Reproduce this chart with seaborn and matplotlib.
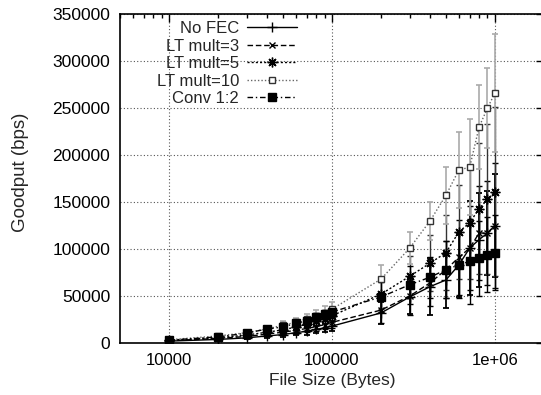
import numpy as np
import pandas as pd
import matplotlib
matplotlib.use('Agg')
import matplotlib.pyplot as plt
import matplotlib.ticker as mticker
import seaborn as sns

# File sizes (bytes) and goodput (bps)
sizes = [10000, 20000, 30000, 40000, 50000, 60000, 70000, 80000, 90000, 100000,
         200000, 300000, 400000, 500000, 600000, 700000, 800000, 900000, 1000000]

no_fec = [2000, 3800, 5500, 7500, 9000, 11000, 12500, 14500, 16000, 18000,
          32000, 49000, 60000, 67000, 83000, 101000, 110000, 117000, 125000]
no_fec_err = [500, 1000, 1500, 2000, 2500, 3000, 3500, 4000, 4500, 5000,
              12000, 18000, 30000, 30000, 34000, 50000, 50000, 45000, 55000]

lt3 = [2500, 4800, 7000, 9500, 11500, 13500, 15500, 17500, 19500, 22000,
       35000, 50000, 64000, 78000, 91000, 101000, 117000, 117000, 125000]
lt3_err = [600, 1200, 1800, 2400, 3000, 3500, 4000, 4500, 5000, 6000,
           14000, 20000, 25000, 30000, 40000, 45000, 50000, 55000, 67000]

lt5 = [3000, 5500, 8500, 11500, 14000, 17000, 20000, 23000, 26000, 29000,
       52000, 71000, 85000, 96000, 118000, 128000, 143000, 153000, 161000]
lt5_err = [700, 1400, 2000, 2800, 3500, 4000, 4500, 5000, 6000, 7000,
           16000, 22000, 30000, 40000, 50000, 60000, 70000, 80000, 90000]

lt10 = [3500, 7500, 11000, 15000, 19000, 22000, 26000, 29000, 32000, 36000,
        68000, 101000, 130000, 157000, 184000, 187000, 230000, 250000, 266000]
lt10_err = [800, 1600, 2500, 3200, 4000, 4500, 5000, 6000, 7000, 8000,
            15000, 17000, 20000, 30000, 40000, 51000, 45000, 43000, 63000]

conv = [3000, 6500, 10500, 15000, 17000, 21000, 23500, 27500, 31000, 33000,
        49000, 62000, 70000, 78000, 83000, 87000, 90000, 94000, 96000]
conv_err = [500, 1000, 1500, 2000, 2500, 3000, 3500, 4000, 4500, 5000,
            16000, 20000, 22000, 30000, 35000, 45000, 40000, 40000, 40000]

labels = ['No FEC', 'LT mult=3', 'LT mult=5', 'LT mult=10', 'Conv 1:2']
yticks = [0, 50000, 100000, 150000, 200000, 250000, 300000, 350000]
xticks = [10000, 100000, 1000000]
xtick_labels = ['10000', '100000', '1e+06']

sns.set_style('white')
plt.rcParams['font.family'] = ['Liberation Sans', 'DejaVu Sans']
plt.rcParams['font.size'] = 12.5

fig = plt.figure(figsize=(5.41, 3.95), dpi=100)
ax = fig.add_axes([120 / 541, 52 / 395, 424 / 541, 329 / 395])

# line style, marker, line colour, bar colour for each series
styles = [
    dict(ls='-', marker='+', ms=7, mfc='black', mec='black', color='black', bar='black', blw=1.3),
    dict(ls=(0, (4, 2)), marker='x', ms=5, mfc='black', mec='black', color='black', bar='black', blw=1.0),
    dict(ls=(0, (1.5, 1.5)), marker=(8, 2, 0), ms=7, mfc='black', mec='black', color='black', bar='#333333', blw=1.0),
    dict(ls=(0, (1, 1.5)), marker='s', ms=5, mfc='white', mec='#333333', color='#666666', bar='#aaaaaa', blw=1.2),
    dict(ls=(0, (4, 2, 1, 2)), marker='s', ms=6, mfc='black', mec='black', color='black', bar='black', blw=1.0),
]
values = [no_fec, lt3, lt5, lt10, conv]
errors = [no_fec_err, lt3_err, lt5_err, lt10_err, conv_err]

for lab, vals, errs, st in zip(labels, values, errors, styles):
    ax.errorbar(sizes, vals, yerr=errs, fmt='none', ecolor=st['bar'],
                elinewidth=st['blw'], capsize=2.5, capthick=st['blw'],
                linestyle=st['ls'], zorder=2)
    sns.lineplot(x=sizes, y=vals, ax=ax, label=lab, color=st['color'],
                 linestyle=st['ls'], linewidth=1.0, marker=st['marker'],
                 markersize=st['ms'], markerfacecolor=st['mfc'],
                 markeredgecolor=st['mec'], markeredgewidth=1.0, zorder=3)

ax.set_xscale('log')
ax.set_xlim(5000, 2000000)
ax.set_ylim(0, 350000)
ax.set_yticks(yticks)
ax.set_yticklabels([str(v) for v in yticks])
ax.xaxis.set_major_locator(mticker.FixedLocator(xticks))
ax.xaxis.set_major_formatter(mticker.FixedFormatter(xtick_labels))
ax.xaxis.set_minor_locator(mticker.LogLocator(base=10, subs=np.arange(2, 10)))
ax.xaxis.set_minor_formatter(mticker.NullFormatter())

ax.grid(True, which='major', color='#555555', linestyle=(0, (1, 2)), linewidth=0.8)
ax.tick_params(which='both', direction='in', top=True, right=True, colors='black',
               labelsize=12.5, pad=7)
ax.tick_params(axis='x', labelsize=12)
ax.tick_params(which='major', length=6, width=1)
ax.tick_params(which='minor', length=3, width=1)
for sp in ax.spines.values():
    sp.set_color('black')
    sp.set_linewidth(1.2)

ax.set_xlabel('File Size (Bytes)', fontsize=12.5, labelpad=4)
ax.set_ylabel('Goodput (bps)', fontsize=13.5)
ax.yaxis.set_label_coords(-0.215, 0.52)

leg = ax.legend(loc='upper right', bbox_to_anchor=(0.418, 0.978), frameon=False,
                markerfirst=False, handlelength=3.0, handletextpad=0.5,
                labelspacing=0.15, fontsize=12, borderaxespad=0, borderpad=0)
leg._legend_box.align = 'right'

fig.savefig('out.png', dpi=100)
